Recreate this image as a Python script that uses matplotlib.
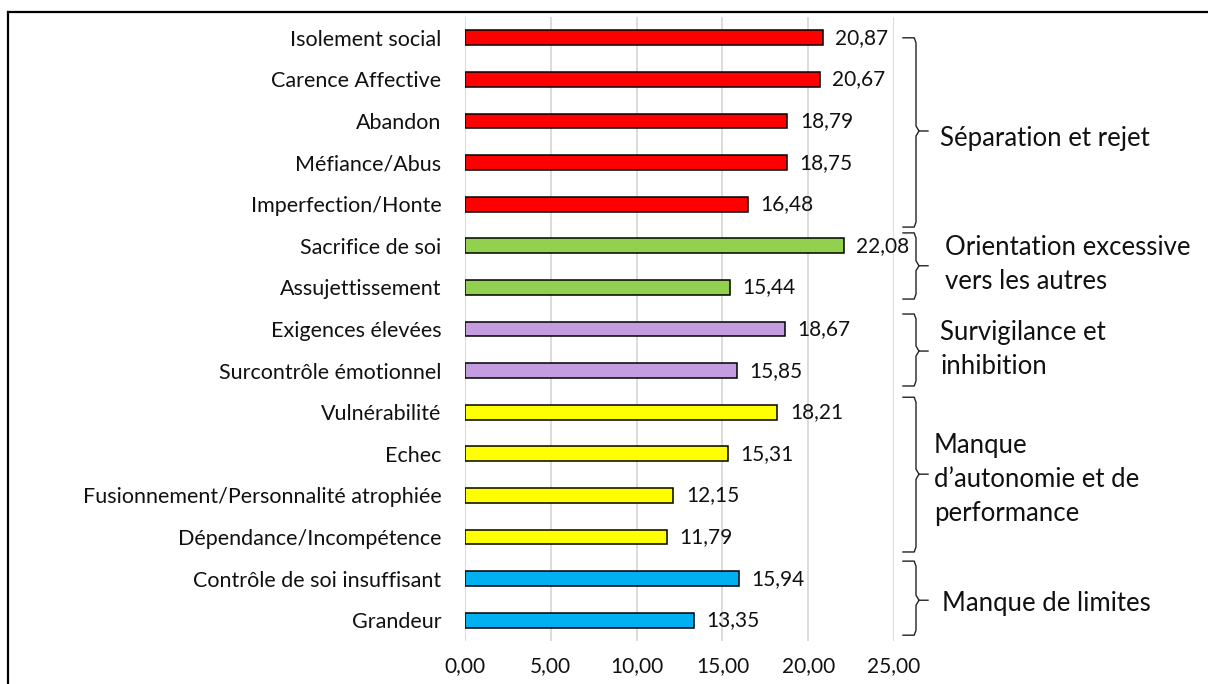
import matplotlib
matplotlib.use("Agg")
import matplotlib.pyplot as plt
import matplotlib.transforms as mtransforms
from matplotlib.lines import Line2D

categories = ["Isolement social", "Carence Affective", "Abandon", "Méfiance/Abus",
              "Imperfection/Honte", "Sacrifice de soi", "Assujettissement",
              "Exigences élevées", "Surcontrôle émotionnel", "Vulnérabilité", "Echec",
              "Fusionnement/Personnalité atrophiée", "Dépendance/Incompétence",
              "Contrôle de soi insuffisant", "Grandeur"]
values = [20.87, 20.67, 18.79, 18.75, 16.48, 22.08, 15.44, 18.67, 15.85,
          18.21, 15.31, 12.15, 11.79, 15.94, 13.35]
groups = ["Séparation et rejet", "Orientation excessive\nvers les autres",
          "Survigilance et\ninhibition", "Manque\nd’autonomie et de\nperformance",
          "Manque de limites"]
group_sizes = [5, 2, 2, 4, 2]
group_colors = ["#FF0000", "#92D050", "#C39DE0", "#FFFF00", "#00B0F0"]
xticks = [0, 5, 10, 15, 20, 25]

plt.rcParams['font.family'] = ['Lato', 'DejaVu Sans']

W, H = 1208, 684
fig = plt.figure(figsize=(W / 100, H / 100), dpi=100)
ax = fig.add_axes([465 / W, 1 - 641 / H, (894 - 465) / W, (641 - 17) / H])

colors = []
for c, n in zip(group_colors, group_sizes):
    colors += [c] * n

FS = 15.5
ypos = list(range(len(categories)))
ax.barh(ypos, values, height=0.36, color=colors, edgecolor="black", linewidth=1.1, zorder=3)
for y, v in zip(ypos, values):
    ax.text(v + 0.72, y, f"{v:.2f}".replace(".", ","), va="center", ha="left",
            fontsize=15, color="#111111")

ax.set_xlim(0, 25)
ax.set_ylim(len(categories) - 0.5, -0.5)
ax.set_xticks(xticks)
ax.set_xticklabels([f"{t:.2f}".replace(".", ",") for t in xticks], fontsize=15, color="#111111")
ax.set_yticks(ypos)
ax.set_yticklabels(categories, fontsize=FS, color="#111111")
ax.tick_params(axis="both", length=0)
ax.tick_params(axis="y", pad=17)
ax.tick_params(axis="x", pad=11)
ax.grid(axis="x", color="#D9D9D9", linewidth=1.3, zorder=0)
for s in ax.spines.values():
    s.set_visible(False)

# curly brackets: x in axes fraction, y in data units
trans = mtransforms.blended_transform_factory(ax.transAxes, ax.transData)
def xf(px):
    return (px - 465) / (894 - 465)

bracket_ext = [(0.0, 4.55), (4.69, 6.28), (6.64, 8.37), (8.64, 12.36), (12.58, 14.36)]
tips = [2.24, 5.48, 7.53, 10.49, 13.52]
text_y = [2.41, 5.46, 7.5, 10.61, 13.59]
text_x = [940, 945, 940, 934, 942]
for (y0, y1), tip, ty, g, tx in zip(bracket_ext, tips, text_y, groups, text_x):
    xl, xm, xr = xf(903), xf(916), xf(928)
    r = 0.12
    d = xf(919) - xm
    seg1 = [(xl, y0), (xm - d * 0.6, y0), (xm, y0 + r), (xm, tip - r), (xm + d, tip), (xr, tip)]
    seg2 = [(xm + d, tip), (xm, tip + r), (xm, y1 - r), (xm - d * 0.6, y1), (xl, y1)]
    for seg in (seg1, seg2):
        ax.add_line(Line2D([p[0] for p in seg], [p[1] for p in seg], color="#222222",
                           linewidth=1.0, transform=trans, clip_on=False))
    ax.text(xf(tx), ty, g, transform=trans, va="center", ha="left", fontsize=18.5,
            color="#111111", linespacing=1.45)

# outer frame (top and left lines)
fig.add_artist(Line2D([8 / W, 1], [1 - 12 / H, 1 - 12 / H], color="black", linewidth=1.6,
                      transform=fig.transFigure))
fig.add_artist(Line2D([8 / W, 8 / W], [0, 1 - 12 / H], color="black", linewidth=1.6,
                      transform=fig.transFigure))

fig.savefig("out.png", dpi=100)
